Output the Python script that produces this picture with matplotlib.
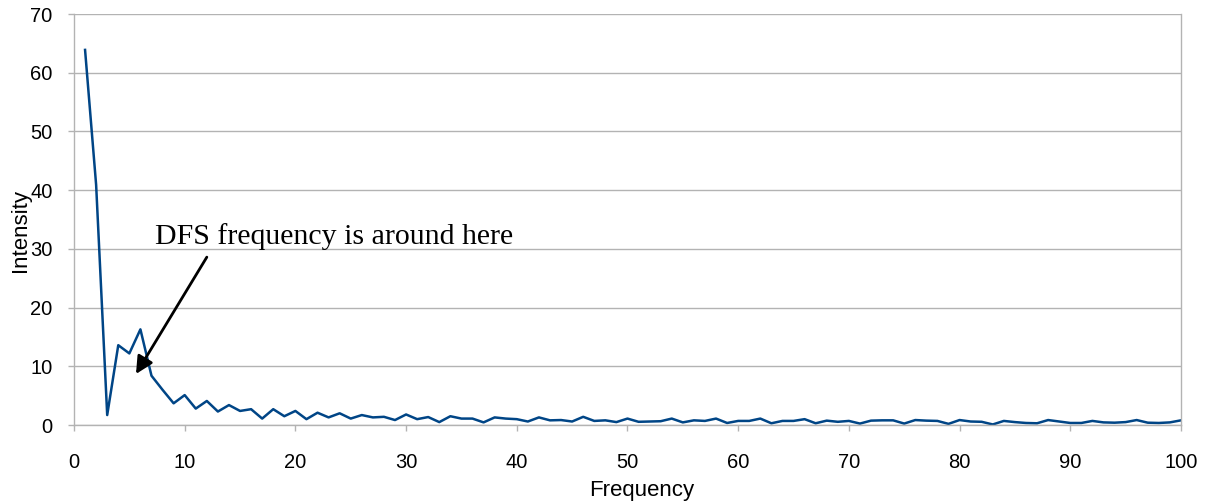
import matplotlib
matplotlib.use('Agg')
import matplotlib.pyplot as plt

GRID = '#b3b3b3'
LINE = '#004586'

# ── Data ──────────────────────────────────────────────────────────
frequency = list(range(1, 101))
intensity = [
    63.9, 40.9, 1.7, 13.6, 12.2, 16.3, 8.4, 6.0, 3.7, 5.1,
    2.8, 4.1, 2.3, 3.4, 2.4, 2.7, 1.1, 2.7, 1.5, 2.4,
    1.0, 2.1, 1.3, 2.0, 1.1, 1.7, 1.3, 1.4, 0.85, 1.8,
    1.0, 1.36, 0.5, 1.5, 1.1, 1.1, 0.45, 1.3, 1.1, 1.0,
    0.6, 1.3, 0.8, 0.85, 0.6, 1.4, 0.7, 0.8, 0.5, 1.1,
    0.55, 0.6, 0.65, 1.1, 0.45, 0.8, 0.7, 1.1, 0.35, 0.7,
    0.7, 1.1, 0.3, 0.7, 0.7, 1.0, 0.3, 0.75, 0.55, 0.7,
    0.25, 0.75, 0.8, 0.8, 0.25, 0.85, 0.75, 0.7, 0.2, 0.85,
    0.6, 0.55, 0.1, 0.7, 0.5, 0.35, 0.3, 0.85, 0.6, 0.35,
    0.35, 0.7, 0.45, 0.4, 0.5, 0.85, 0.4, 0.35, 0.45, 0.8,
]
x_ticks = list(range(0, 101, 10))
y_ticks = list(range(0, 71, 10))

note_text = 'DFS frequency is around here'
note_xy = (5.6, 8.7)
note_text_xy = (7.3, 30.8)
arrow_tail = (12.0, 28.6)

fig = plt.figure(figsize=(12.11, 5.03), dpi=100)
ax = fig.add_axes([0.0611, 0.155, 0.9141, 0.817])

ax.plot(frequency, intensity, color=LINE, linewidth=1.8)

ax.set_xlim(0, 100)
ax.set_ylim(0, 70)
ax.set_xticks(x_ticks)
ax.set_yticks(y_ticks)
ax.yaxis.grid(True, color=GRID, linewidth=1.0)
ax.set_axisbelow(True)
for spine in ax.spines.values():
    spine.set_color(GRID)
    spine.set_linewidth(1.0)
ax.spines['top'].set_visible(False)
ax.tick_params(axis='both', colors=GRID, length=4.3, width=1.0,
               labelcolor='black', labelsize=14.5)
ax.tick_params(axis='x', pad=15.5)
ax.tick_params(axis='y', pad=11)
for lab in ax.get_xticklabels() + ax.get_yticklabels():
    lab.set_family('Liberation Sans')

ax.set_xlabel('Frequency', fontsize=16, family='Liberation Sans')
ax.set_ylabel('Intensity', fontsize=16, family='Liberation Sans')
ax.xaxis.set_label_coords(0.5125, -0.133)
ax.yaxis.set_label_coords(-0.039, 0.474)

ax.annotate('', xy=note_xy, xytext=arrow_tail,
            arrowprops=dict(arrowstyle='-|>', color='black', lw=2,
                            mutation_scale=26, shrinkA=0, shrinkB=0))
ax.text(note_text_xy[0], note_text_xy[1], note_text, fontsize=21.5,
        family='Liberation Serif', va='baseline', ha='left')

plt.savefig('out.png', dpi=100)
plt.close()
